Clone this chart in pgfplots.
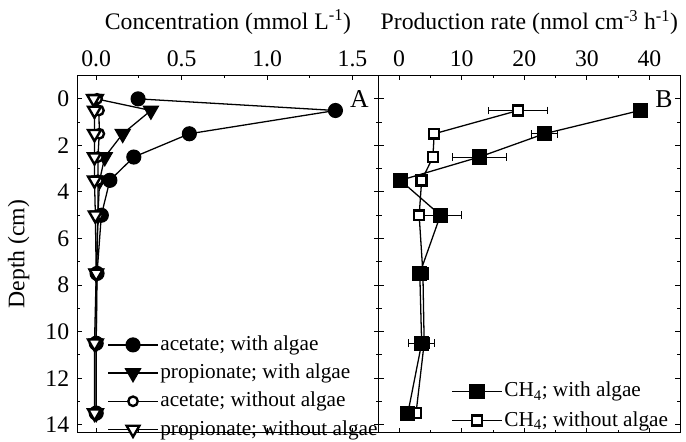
\documentclass[border=0pt]{standalone}
\usepackage{fontspec}
\setmainfont{Liberation Serif}
\usepackage{pgfplots}
\pgfplotsset{compat=1.18}
\begin{document}
\fontsize{24}{28}\selectfont
\begin{tikzpicture}
\pgfplotsset{
  panel/.style={
    scale only axis, width=305pt, height=362pt,
    y dir=reverse, ymin=-1.02, ymax=14.35,
    ytick={0,2,...,14}, minor y tick num=1,
    minor x tick num=1,
    xticklabel pos=upper,
    tick align=inside,
    major tick length=5pt, minor tick length=3pt,
    every tick/.style={line width=1pt, black},
    axis line style={line width=1.2pt},
    tick label style={font=\fontsize{24}{28}\selectfont},
    label style={font=\fontsize{24}{28}\selectfont},
    /pgf/number format/assume math mode=true,
    legend cell align=left,
    legend image code/.code={
      \draw[mark repeat=2,mark phase=2] plot coordinates {(0pt,0pt) (25pt,0pt) (50pt,0pt)};
    },
  },
  ln/.style={black, line width=1.3pt},
}
% left panel
\begin{axis}[panel, at={(0pt,0pt)}, anchor=south west,
  xmin=-0.111, xmax=1.653,
  xtick={0,0.5,1,1.5},
  xticklabel style={/pgf/number format/.cd, fixed, fixed zerofill, precision=1},
  xlabel={Concentration (mmol L\textsuperscript{-1})},
  ylabel={Depth (cm)},
  legend style={draw=none, fill=none, at={(1,0)}, anchor=south east,
    font=\fontsize{21.5}{24}\selectfont, row sep=6pt, inner sep=1pt, xshift=2pt, yshift=-9pt},
]
\addplot[ln, mark=*, mark size=7pt, mark options={fill=black}] coordinates {
 (0.245,0) (1.40,0.5) (0.545,1.5) (0.22,2.5) (0.08,3.5) (0.03,5) (0.005,7.5) (0.0,10.5) (0.0,13.5)};
\addlegendentry{acetate; with algae}
\addplot[ln, mark=triangle*, mark size=8.7pt, mark options={rotate=180, fill=black}] coordinates {
 (0.0,0) (0.32,0.5) (0.155,1.5) (0.05,2.5) (0.02,3.5) (0.01,5) (0.0,7.5) (0.0,10.5) (0.0,13.5)};
\addlegendentry{propionate; with algae}
\addplot[ln, mark=*, mark size=4.8pt, mark options={fill=white, line width=2.4pt}] coordinates {
 (0.005,0) (0.016,0.5) (0.018,1.5) (0.01,2.5) (0.01,3.5) (0.01,5) (0.003,7.5) (0.0,10.5) (0.0,13.5)};
\addlegendentry{acetate; without algae}
\addplot[ln, mark=triangle*, mark size=7.5pt, mark options={rotate=180, fill=white, line width=2.4pt}] coordinates {
 (-0.015,0) (-0.01,0.5) (-0.01,1.5) (-0.01,2.5) (-0.01,3.5) (-0.005,5) (0.0,7.5) (-0.01,10.5) (-0.01,13.5)};
\addlegendentry{propionate; without algae}
\node[font=\fontsize{26}{30}\selectfont] at (axis cs:1.54,0) {A};
\end{axis}
% right panel
\begin{axis}[panel, at={(305pt,0pt)}, anchor=south west,
  xmin=-3.27, xmax=44.9,
  xtick={0,10,20,30,40},
  yticklabels={},
  xlabel={Production rate (nmol cm\textsuperscript{-3} h\textsuperscript{-1})},
  reverse legend,
  legend style={draw=none, fill=none, at={(1,0)}, anchor=south east,
    font=\fontsize{21.5}{24}\selectfont, row sep=7pt, inner sep=1pt, xshift=-9pt, yshift=0pt},
  error bars/error bar style={line width=1pt, black},
  error bars/error mark options={rotate=90, mark size=4pt, line width=1pt, black},
]
\addplot[ln, mark=square*, mark size=5pt, mark options={fill=white, line width=2.5pt},
  error bars/.cd, x dir=both, x explicit] coordinates {
 (19.0,0.5) +- (4.7,0)
 (5.6,1.5) +- (0.8,0)
 (5.4,2.5) +- (0.5,0)
 (3.6,3.5) +- (0.8,0)
 (3.2,5) +- (0.8,0)
 (3.8,7.5) +- (0.5,0)
 (4.0,10.5) +- (0.8,0)
 (2.7,13.5) +- (0.8,0)};
\addplot[ln, mark=square*, mark size=7pt, mark options={fill=black},
  error bars/.cd, x dir=both, x explicit] coordinates {
 (38.5,0.5) +- (0.5,0)
 (23.2,1.5) +- (2.1,0)
 (12.8,2.5) +- (4.3,0)
 (0.2,3.5) +- (0.2,0)
 (6.6,5) +- (3.3,0)
 (3.3,7.5) +- (0.5,0)
 (3.6,10.5) +- (2.1,0)
 (1.4,13.5) +- (0.5,0)};
\legend{CH\textsubscript{4}; without algae, CH\textsubscript{4}; with algae}
\node[font=\fontsize{26}{30}\selectfont] at (axis cs:42.3,0) {B};
\end{axis}
\path[use as bounding box] (-73pt,-4pt) rectangle (613pt,438pt);
\end{tikzpicture}
\end{document}
